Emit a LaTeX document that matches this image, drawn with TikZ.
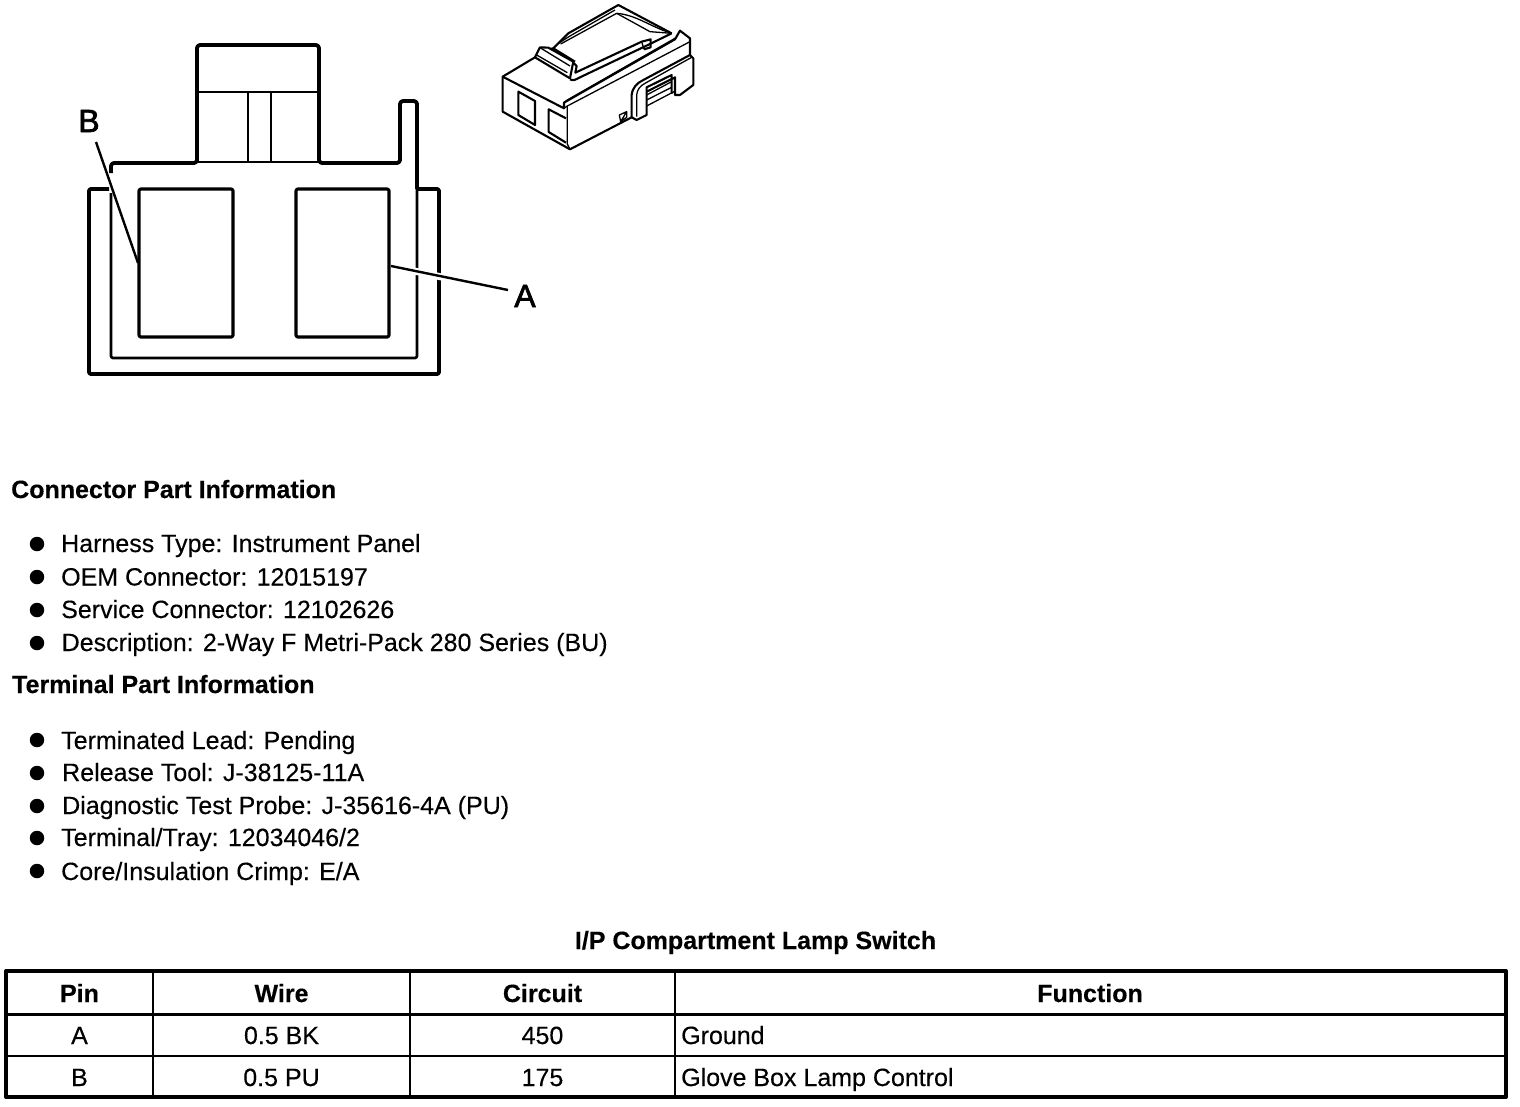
\documentclass[tikz,border=0pt]{standalone}
\usepackage{fontspec}
\setmainfont[FakeBold=0.25]{Liberation Sans}
\newfontfamily\callfont[FakeBold=2.2]{Liberation Sans}
\begin{document}
\begin{tikzpicture}[x=1pt,y=-1pt,line join=round,
  thick3/.style={draw=black,line width=3.8pt},
  rectln/.style={draw=black,line width=3.2pt},
  thin3/.style={draw=black,line width=2.7pt},
  isoa/.style={draw=black,line width=2.1pt},
  isob/.style={draw=black,line width=1.3pt},
  leader/.style={draw=black,line width=2.4pt},
  halo/.style={draw=white,line width=7pt},
  txt/.style={anchor=base west,inner sep=0pt,font=\fontsize{25}{28}\selectfont},
  head/.style={anchor=base west,inner sep=0pt,font=\fontsize{25}{28}\selectfont\bfseries},
  cell/.style={anchor=base,inner sep=0pt,font=\fontsize{25}{28}\selectfont},
  hcell/.style={anchor=base,inner sep=0pt,font=\fontsize{25}{28}\selectfont\bfseries},
  callout/.style={anchor=base,inner sep=0pt,font=\fontsize{32}{36}\callfont},
  dot/.style={circle,fill=black,inner sep=0pt,minimum size=14.5pt}]
\useasboundingbox (0,0) rectangle (1520,1106);
\fill[white] (0,0) rectangle (1520,1106);
% front view
\draw[thick3,rounded corners=2pt] (109,189) -- (89,189) -- (89,374) -- (439,374) -- (439,189) -- (417,189);
\draw[thin3,rounded corners=2pt] (111,193) -- (111,358) -- (417,358) -- (417,187);
\draw[thick3,rounded corners=3pt] (111,173) -- (111,163) -- (197,163) -- (197,45) -- (319,45) -- (319,163) -- (400,163) -- (400,101) -- (417,101) -- (417,189);
\draw[thin3] (197,92) -- (319,92) (248,92) -- (248,162) (271,92) -- (271,162);
\draw[draw=black,line width=2pt] (197,162) -- (319,162);
\draw[rectln,rounded corners=2pt] (139,189) rectangle (233,337);
\draw[rectln,rounded corners=2pt] (296,189) rectangle (389,337);
\node[callout] (lblB) at (89,132) {B};
\node[callout] (lblA) at (525,307) {A};
\coordinate (bs) at (96,142); \coordinate (be) at (138,263);
\coordinate (as) at (391,266); \coordinate (ae) at (508,290);
\path[halo] (410,270) -- (446,278);
\draw[leader] (bs) -- (be);
\draw[leader] (as) -- (ae);
% isometric view
\begin{scope}[shift={(490,0)},x=0.3333pt,y=-0.3333pt]
\draw[isoa] (135,172) -- (38,230) -- (38,335) -- (240,448) -- (425,352);
\draw[isoa] (38,230) -- (222,325) -- (222,308) -- (555,118) -- (570,92) -- (600,115) -- (600,165);
\draw[isob] (232,318) -- (232,432) -- (240,448);
\draw[isob] (222,325) -- (232,318) -- (600,125);
\draw[isob] (222,308) -- (232,300) -- (560,112);
% windows
\draw[isoa] (85,275) -- (135,303) -- (135,375) -- (85,345) -- cycle;
\draw[isoa] (228,355) -- (176,328) -- (176,396) -- (228,428);
% latch
\draw[isoa] (150,142) -- (135,172) -- (240,235) -- (250,185) -- (175,143) -- cycle;
\draw[isob] (140,165) -- (232,218) (150,143) -- (240,198);
% top panel
\draw[isoa] (190,145) -- (235,100) -- (385,15) -- (545,100);
\draw[isob] (205,130) -- (240,108) -- (375,30) (212,132) -- (380,40) -- (480,95) -- (545,100);
\draw[isob] (380,40) .. controls (440,45) and (480,80) .. (545,100);
\draw[isoa] (180,147) -- (190,145) -- (255,185);
\draw[isoa] (250,188) -- (260,198) -- (256,218) -- (455,125) -- (482,118) -- (482,142) -- (462,148);
\draw[isob] (455,125) -- (462,148);
\draw[isoa] (240,238) .. controls (250,244) and (258,238) .. (270,232) -- (480,132) -- (545,100);
% side clip
\draw[isoa] (600,165) -- (610,175) -- (610,255) -- (570,285) -- (555,285) -- (555,232) -- (470,275);
\draw[isoa] (425,352) -- (425,285) .. controls (428,262) and (440,250) .. (460,240) -- (600,165);
\draw[isob] (440,350) -- (440,285) .. controls (442,268) and (450,258) .. (465,250) -- (605,172);
\draw[isoa] (425,352) -- (440,360) -- (470,345) -- (470,262) -- (545,225) -- (545,282);
\draw[isob] (470,285) -- (545,245) (470,300) -- (545,262) (470,318) -- (552,275);
\draw[isob] (388,345) -- (410,335) -- (410,352) -- (392,365) -- cycle (392,365) -- (410,335);
\end{scope}
% text
\node[head] (h1) at (11,498) {Connector Part Information};
\node[txt] (t1) at (61,552) {Harness Type: Instrument Panel};
\node[txt] (t2) at (61,585.5) {OEM Connector: 12015197};
\node[txt] (t3) at (61,618) {Service Connector: 12102626};
\node[txt] (t4) at (61.5,651) {Description: 2-Way F Metri-Pack 280 Series (BU)};
\node[head] (h2) at (12,693) {Terminal Part Information};
\node[txt] (t5) at (61,749) {Terminated Lead: Pending};
\node[txt] (t6) at (62,781) {Release Tool: J-38125-11A};
\node[txt] (t7) at (62,814) {Diagnostic Test Probe: J-35616-4A (PU)};
\node[txt] (t8) at (61,846) {Terminal/Tray: 12034046/2};
\node[txt] (t9) at (61,880) {Core/Insulation Crimp: E/A};
\foreach \n/\y in {a/544,b/577,c/610,d/643,e/740,f/773,g/806,h/838,i/871}
  \node[dot] (bul\n) at (37,\y) {};
% table
\node[hcell] (title) at (755.5,949) {I/P Compartment Lamp Switch};
\draw[draw=black,line width=4pt] (6,971) rectangle (1506,1097);
\draw[draw=black,line width=3pt] (6,1014) -- (1506,1014);
\draw[draw=black,line width=2.4pt] (6,1056) -- (1506,1056);
\draw[draw=black,line width=2pt] (153,971) -- (153,1097) (410,971) -- (410,1097) (675,971) -- (675,1097);
\node[hcell] (c11) at (79.5,1002) {Pin};
\node[hcell] (c12) at (281.5,1002) {Wire};
\node[hcell] (c13) at (542.5,1002) {Circuit};
\node[hcell] (c14) at (1090,1002) {Function};
\node[cell] (c21) at (79.5,1044) {A};
\node[cell] (c22) at (281.5,1044) {0.5 BK};
\node[cell] (c23) at (542.5,1044) {450};
\node[txt] (c24) at (681,1044) {Ground};
\node[cell] (c31) at (79.5,1086) {B};
\node[cell] (c32) at (281.5,1086) {0.5 PU};
\node[cell] (c33) at (542.5,1086) {175};
\node[txt] (c34) at (681,1086) {Glove Box Lamp Control};
\end{tikzpicture}
\end{document}
